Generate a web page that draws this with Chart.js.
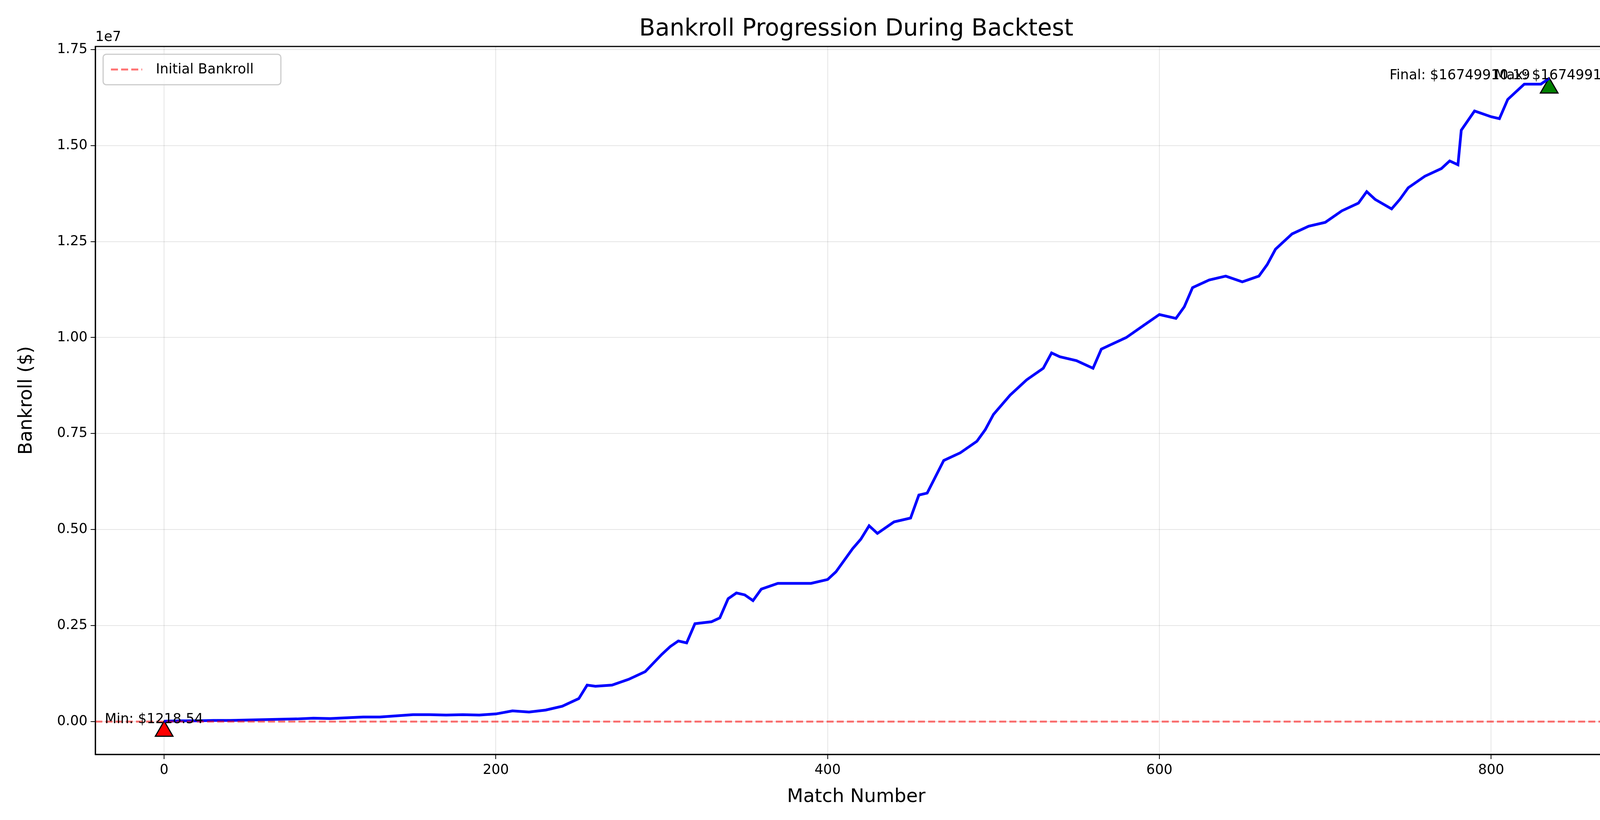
<!DOCTYPE html>
<html>
<head>
<meta charset="utf-8">
<script src="https://cdn.jsdelivr.net/npm/chart.js@4.4.0/dist/chart.umd.min.js"></script>
<style>
  body { margin: 0; background: #fff; }
  canvas { display: block; }
</style>
</head>
<body>
<canvas id="bankrollChart" width="4200" height="2100"></canvas>
<script>
// data (bankroll in dollars)
var matchNumbers = [0, 10, 20, 30, 40, 50, 60, 70, 80, 90, 100, 110, 120, 130, 140, 150, 160, 170, 180, 190,
  200, 210, 220, 230, 240, 250, 255, 260, 270, 280, 290, 300, 305, 310, 315, 320, 330, 335, 340, 345,
  350, 355, 360, 370, 380, 390, 400, 405, 410, 415, 420, 425, 430, 440, 450, 455, 460, 470, 480, 490,
  495, 500, 510, 520, 530, 535, 540, 550, 560, 565, 570, 580, 590, 600, 610, 615, 620, 630, 640, 650,
  660, 665, 670, 680, 690, 700, 710, 720, 725, 730, 740, 745, 750, 760, 770, 775, 780, 782, 790, 800,
  805, 810, 815, 820, 830, 835];
var bankrollMillions = [0.01, 0.02, 0.02, 0.03, 0.03, 0.04, 0.05, 0.06, 0.07, 0.09, 0.08, 0.10, 0.12, 0.12, 0.15, 0.18, 0.18, 0.17, 0.18, 0.17,
  0.20, 0.28, 0.25, 0.30, 0.40, 0.60, 0.95, 0.92, 0.95, 1.10, 1.30, 1.75, 1.95, 2.10, 2.05, 2.55, 2.60, 2.70, 3.20, 3.35,
  3.30, 3.15, 3.45, 3.60, 3.60, 3.60, 3.70, 3.90, 4.20, 4.50, 4.75, 5.10, 4.90, 5.20, 5.30, 5.90, 5.95, 6.80, 7.00, 7.30,
  7.60, 8.00, 8.50, 8.90, 9.20, 9.60, 9.50, 9.40, 9.20, 9.70, 9.80, 10.00, 10.30, 10.60, 10.50, 10.80, 11.30, 11.50, 11.60, 11.45,
  11.60, 11.90, 12.30, 12.70, 12.90, 13.00, 13.30, 13.50, 13.80, 13.60, 13.35, 13.60, 13.90, 14.20, 14.40, 14.60, 14.50, 15.40, 15.90, 15.75,
  15.70, 16.20, 16.40, 16.60, 16.60, 16.75];
var initialBankroll = 1000;
var minPoint = { x: 0, y: -250000, label: "Min: $1218.54" };
var maxPoint = { x: 835, y: 16500000, label: "Max: $16749910.19" };
var finalLabel = "Final: $16749910.19";
var xTicks = [0, 200, 400, 600, 800];
var yTicks = [0, 2500000, 5000000, 7500000, 10000000, 12500000, 15000000, 17500000];

var font = "'DejaVu Sans', sans-serif";
var linePoints = matchNumbers.map(function (m, i) { return { x: m, y: bankrollMillions[i] * 1e6 }; });

var extras = {
  id: "extras",
  afterDraw: function (chart) {
    var ctx = chart.ctx, a = chart.chartArea;
    var xs = chart.scales.x, ys = chart.scales.y;
    ctx.save();
    // full axes box
    ctx.strokeStyle = "#000";
    ctx.lineWidth = 3;
    ctx.strokeRect(a.left, a.top, a.right - a.left, a.bottom - a.top);
    ctx.fillStyle = "#000";
    ctx.font = "60px " + font;
    ctx.textAlign = "center";
    ctx.textBaseline = "bottom";
    ctx.fillText("Bankroll Progression During Backtest", (a.left + a.right) / 2, a.top - 14);
    ctx.font = "35px " + font;
    ctx.textAlign = "left";
    ctx.fillText("1e7", a.left, a.top - 6);
    // annotations
    ctx.textBaseline = "alphabetic";
    var mx = xs.getPixelForValue(minPoint.x), my = ys.getPixelForValue(minPoint.y);
    ctx.fillText(minPoint.label, mx - 152, my - 21);
    var Mx = xs.getPixelForValue(maxPoint.x), My = ys.getPixelForValue(maxPoint.y);
    ctx.textAlign = "right";
    ctx.fillText(finalLabel, Mx - 49, My - 22);
    ctx.fillText(maxPoint.label, Mx + 212, My - 22);
    // legend
    var lx = a.left + 20, ly = a.top + 20;
    ctx.fillStyle = "rgba(255,255,255,0.8)";
    ctx.strokeStyle = "#cccccc";
    ctx.lineWidth = 3;
    ctx.beginPath();
    ctx.roundRect(lx, ly, 455, 78, 8);
    ctx.fill();
    ctx.stroke();
    ctx.strokeStyle = "rgba(255,0,0,0.55)";
    ctx.lineWidth = 5;
    ctx.setLineDash([18, 8]);
    ctx.beginPath();
    ctx.moveTo(lx + 20, ly + 39);
    ctx.lineTo(lx + 100, ly + 39);
    ctx.stroke();
    ctx.setLineDash([]);
    ctx.fillStyle = "#000";
    ctx.textAlign = "left";
    ctx.textBaseline = "middle";
    ctx.fillText("Initial Bankroll", lx + 135, ly + 40);
    ctx.restore();
  }
};

new Chart(document.getElementById("bankrollChart"), {
  type: "line",
  data: {
    datasets: [{
      label: "Initial Bankroll",
      data: [{ x: -41.5, y: initialBankroll }, { x: 876, y: initialBankroll }],
      borderColor: "rgba(255,0,0,0.55)",
      borderWidth: 5,
      borderDash: [18, 8],
      pointRadius: 0
    }, {
      label: "Bankroll",
      data: linePoints,
      borderColor: "#0000ff",
      borderWidth: 7,
      pointRadius: 0,
      tension: 0
    }, {
      label: "Min",
      data: [minPoint],
      showLine: false,
      pointStyle: "triangle",
      pointRadius: 26,
      backgroundColor: "#ff0000",
      borderColor: "#000",
      borderWidth: 3
    }, {
      label: "Max",
      data: [maxPoint],
      showLine: false,
      pointStyle: "triangle",
      pointRadius: 26,
      backgroundColor: "#008000",
      borderColor: "#000",
      borderWidth: 3
    }]
  },
  options: {
    responsive: false,
    animation: false,
    devicePixelRatio: 1,
    layout: { padding: { left: 0, right: 60, top: 119, bottom: 0 } },
    plugins: { legend: { display: false }, tooltip: { enabled: false }, title: { display: false } },
    scales: {
      x: {
        type: "linear",
        min: -41.5,
        max: 876,
        afterBuildTicks: function (s) { s.ticks = xTicks.map(function (v) { return { value: v }; }); },
        afterFit: function (s) { s.height = 168; },
        grid: { color: "rgba(0,0,0,0.1)", lineWidth: 2, tickColor: "#000", tickLength: 12 },
        border: { color: "#000", width: 3 },
        ticks: { color: "#000", font: { size: 35, family: font }, padding: 8, maxRotation: 0 },
        title: { display: true, text: "Match Number", color: "#000", font: { size: 48, family: font }, padding: { top: 0, bottom: 30 } }
      },
      y: {
        min: -854000,
        max: 17580000,
        afterBuildTicks: function (s) { s.ticks = yTicks.map(function (v) { return { value: v }; }); },
        afterFit: function (s) { s.width = 244; },
        grid: { color: "rgba(0,0,0,0.1)", lineWidth: 2, tickColor: "#000", tickLength: 12 },
        border: { color: "#000", width: 3 },
        ticks: {
          color: "#000", font: { size: 35, family: font }, padding: 8,
          callback: function (v) { return (v / 1e7).toFixed(2); }
        },
        title: { display: true, text: "Bankroll ($)", color: "#000", font: { size: 48, family: font }, padding: { top: 40, bottom: 0 } }
      }
    }
  },
  plugins: [extras]
});
</script>
</body>
</html>
